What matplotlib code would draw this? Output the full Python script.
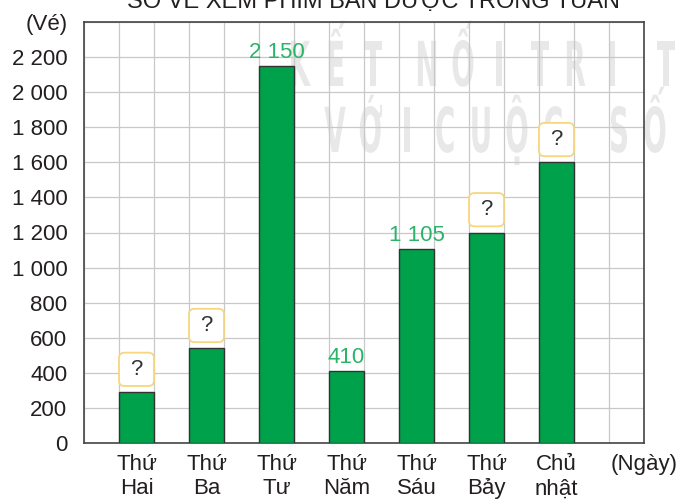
import matplotlib
matplotlib.use("Agg")
import matplotlib.pyplot as plt
from matplotlib.patches import FancyBboxPatch, PathPatch
from matplotlib.textpath import TextPath
from matplotlib.font_manager import FontProperties
from matplotlib.transforms import Affine2D, IdentityTransform

# data
days = ["Thứ\nHai", "Thứ\nBa", "Thứ\nTư", "Thứ\nNăm", "Thứ\nSáu", "Thứ\nBảy", "Chủ\nnhật"]
tickets = [290, 540, 2150, 410, 1105, 1200, 1600]
shown = [None, None, "2 150", "410", "1 105", None, None]   # None -> "?" box
yticks = list(range(0, 2401, 200))
ylabels = [f"{v:,}".replace(",", " ") for v in yticks[:-1]] + ["(Vé)"]

plt.rcParams['font.family'] = ['Liberation Sans', 'DejaVu Sans']
text_col = '#231f20'
green = '#00a14b'
label_green = '#2bb36a'

fig = plt.figure(figsize=(6.81, 5.01), dpi=100, facecolor='white')
ax = fig.add_axes([84/681, 58/501, 560/681, 421/501])
ax.set_facecolor('none')

x = [1.5 + 2*i for i in range(len(days))]
ax.bar(x, tickets, width=1, color=green, edgecolor='#333333', linewidth=1, zorder=3)

ax.set_xlim(0, 16)
ax.set_ylim(0, 2400)
ax.set_yticks(yticks)
ax.set_yticklabels(ylabels)
ax.set_xticks(x + [16])
ax.set_xticklabels(days + ["(Ngày)"])
ax.set_xticks(range(17), minor=True)
ax.tick_params(axis='both', which='both', length=0, labelsize=16, colors=text_col)
ax.tick_params(axis='y', pad=12)
ax.tick_params(axis='x', pad=8)
ax.grid(axis='x', which='minor', color='#c8c8c8', lw=0.9, zorder=1)
ax.grid(axis='y', which='major', color='#c8c8c8', lw=0.9, zorder=1)
ax.set_axisbelow(True)
for s in ax.spines.values():
    s.set_color('#444444')
    s.set_linewidth(1.2)

# value labels and "?" boxes
for xi, v, lab in zip(x, tickets, shown):
    if lab:
        ax.annotate(lab, (xi, v), xytext=(0, 2), textcoords='offset points',
                    ha='center', va='bottom', fontsize=16, color=label_green, zorder=5)
    else:
        y0 = v + 35
        box = FancyBboxPatch((xi - 0.5, y0), 1, 190,
                             boxstyle="round,pad=0,rounding_size=0.16",
                             mutation_aspect=190, fc='white', ec='#f6d77e', lw=1.3, zorder=4)
        ax.add_patch(box)
        ax.text(xi, y0 + 95, "?", ha='center', va='center', fontsize=16,
                color='#333333', zorder=5)

# title (cut off at the top like the reference)
fig.text(373/681, 1 - 8/501, "SỐ VÉ XEM PHIM BÁN ĐƯỢC TRONG TUẦN",
         ha='center', va='baseline', fontsize=17, color=text_col)

# faint watermark
wm_font = FontProperties(family='DejaVu Sans', weight='bold')
rows = [(86, [("KẾT", 301), ("NỐI", 427), ("TRI", 540), ("THỨC", 666)]),
        (152, [("VỚI", 335), ("CUỘC", 445), ("SỐNG", 619)])]
for base, words in rows:
    for word, start in words:
        for i, ch in enumerate(word):
            tp = TextPath((0, 0), ch, size=62, prop=wm_font)
            ext = tp.get_extents()
            cx = (ext.x0 + ext.x1) / 2
            tr = Affine2D().translate(-cx, 0).scale(0.45, 1).translate(start + 36*i, 501 - base)
            p = PathPatch(tr.transform_path(tp), transform=IdentityTransform(),
                          fc='#c4c4c4', ec='none', alpha=0.38, zorder=-1)
            fig.add_artist(p)

fig.savefig('out.png', dpi=100)
